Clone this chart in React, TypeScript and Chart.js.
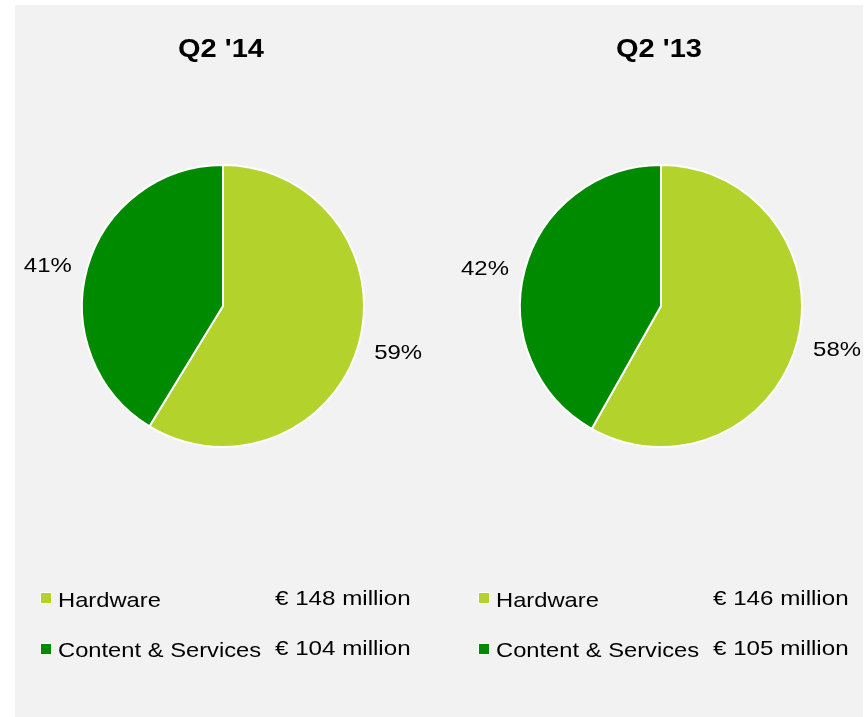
import React, { useEffect, useRef } from "react";
import { Chart, registerables } from "chart.js";

Chart.register(...registerables);

const categories = ["Hardware", "Content & Services"];
const q214Values = [148, 104];
const q213Values = [146, 105];
const q214Amounts = ["€ 148 million", "€ 104 million"];
const q213Amounts = ["€ 146 million", "€ 105 million"];
const titles = ["Q2 '14", "Q2 '13"];
const sliceColors = ["#b3d22b", "#008a00"];

const FONT = "'Liberation Sans', Arial, Helvetica, sans-serif";

function drawText(
  ctx: CanvasRenderingContext2D,
  text: string,
  x: number,
  y: number,
  align: CanvasTextAlign,
  baseline: CanvasTextBaseline,
  font: string,
  stretch: number
) {
  ctx.save();
  ctx.translate(x, y);
  ctx.scale(stretch, 1);
  ctx.font = font;
  ctx.fillStyle = "#000000";
  ctx.textAlign = align;
  ctx.textBaseline = baseline;
  ctx.fillText(text, 0, 0);
  ctx.restore();
}

function makeOverlay(title: string, amounts: string[]) {
  return {
    id: "overlay",
    afterDraw(chart: any) {
      const ctx: CanvasRenderingContext2D = chart.ctx;
      const area = chart.chartArea;
      const cx = (area.left + area.right) / 2;
      const meta = chart.getDatasetMeta(0);
      const data: number[] = chart.data.datasets[0].data;
      const total = data.reduce((a, b) => a + b, 0);

      // title
      drawText(ctx, title, cx - 2, 52, "center", "alphabetic", `bold 25px ${FONT}`, 1.16);

      // percentage labels
      meta.data.forEach((arc: any, i: number) => {
        const p = arc.getProps(["x", "y", "startAngle", "endAngle", "outerRadius"], true);
        const mid = (p.startAngle + p.endAngle) / 2;
        const d = p.outerRadius + 41;
        const lx = p.x + Math.cos(mid) * d;
        const ly = p.y + Math.sin(mid) * d * 0.88 + 4;
        const pct = Math.round((data[i] / total) * 100) + "%";
        drawText(ctx, pct, lx, ly, "center", "middle", `21px ${FONT}`, 1.14);
      });

      // legend
      const sqX = cx - 183;
      const rows = [
        { sqY: 587, textY: 602, valY: 600 },
        { sqY: 638, textY: 652, valY: 650 },
      ];
      categories.forEach((cat, i) => {
        const r = rows[i];
        ctx.save();
        ctx.fillStyle = "#ffffff";
        ctx.fillRect(sqX, r.sqY, 12, 12);
        ctx.fillStyle = sliceColors[i];
        ctx.fillRect(sqX + 1, r.sqY + 1, 10, 10);
        ctx.restore();
        drawText(ctx, cat, sqX + 18, r.textY, "left", "alphabetic", `21px ${FONT}`, 1.13);
        drawText(ctx, amounts[i], cx + 52, r.valY, "left", "alphabetic", `21px ${FONT}`, 1.15);
      });
    },
  };
}

function PieChart(props: {
  values: number[];
  title: string;
  amounts: string[];
  left: number;
  width: number;
  padLeft: number;
  padRight: number;
}) {
  const ref = useRef<HTMLCanvasElement>(null);
  useEffect(() => {
    if (!ref.current) return;
    const chart = new Chart(ref.current, {
      type: "pie",
      data: {
        labels: categories,
        datasets: [
          {
            data: props.values,
            backgroundColor: sliceColors,
            borderColor: "#ffffff",
            borderWidth: 2,
          },
        ],
      },
      options: {
        animation: false,
        responsive: false,
        devicePixelRatio: 1,
        layout: {
          padding: { left: props.padLeft, right: props.padRight, top: 159, bottom: 269 },
        },
        plugins: {
          legend: { display: false },
          tooltip: { enabled: false },
          title: { display: false },
        },
      },
      plugins: [makeOverlay(props.title, props.amounts)],
    });
    return () => chart.destroy();
  }, []);
  return (
    <canvas
      ref={ref}
      width={props.width}
      height={712}
      style={{ position: "absolute", left: props.left, top: 5, width: props.width, height: 712 }}
    />
  );
}

export default function App() {
  return (
    <div style={{ position: "absolute", left: 0, top: 0, width: 868, height: 717, background: "#ffffff" }}>
      <div
        style={{ position: "absolute", left: 15, top: 5, width: 848, height: 712, background: "#f2f2f2" }}
      />
      <PieChart values={q214Values} title={titles[0]} amounts={q214Amounts} left={15} width={430} padLeft={66} padRight={80} />
      <PieChart values={q213Values} title={titles[1]} amounts={q213Amounts} left={445} width={418} padLeft={74} padRight={60} />
    </div>
  );
}
